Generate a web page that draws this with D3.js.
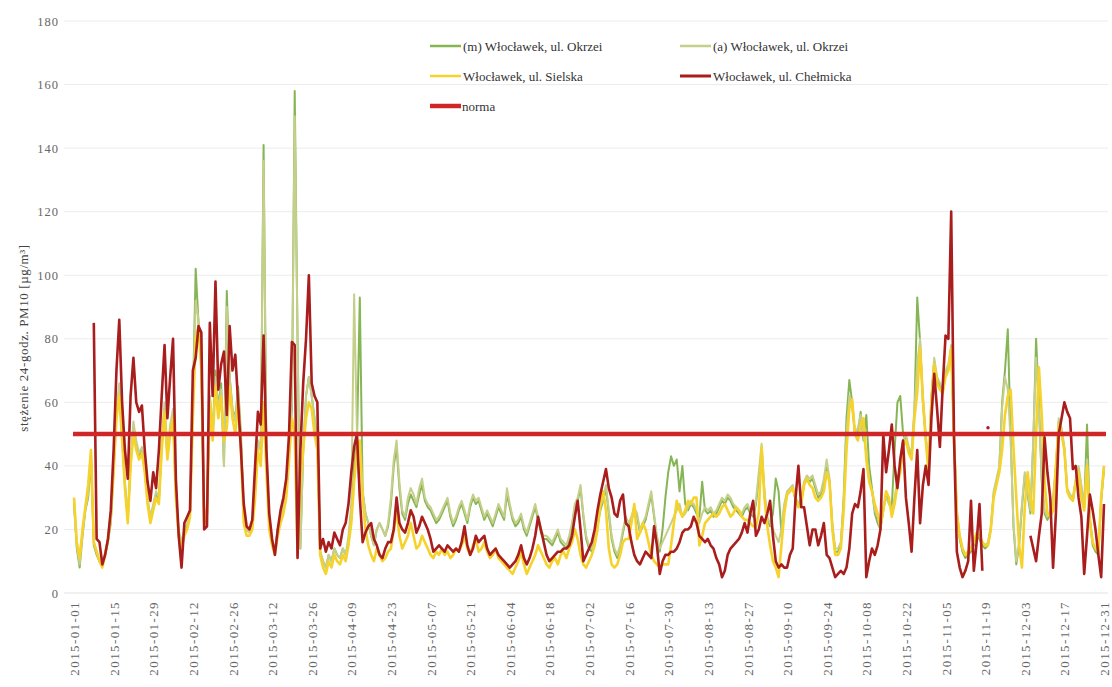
<!DOCTYPE html>
<html><head><meta charset="utf-8">
<script src="https://cdn.jsdelivr.net/npm/d3@7"></script>
<style>
body{margin:0;background:#fff}
text{font-family:"Liberation Serif","DejaVu Serif",serif}
</style>
</head><body>
<svg id="chart" width="1112" height="687"></svg>
<script>
// ---- data (daily 24h PM10 concentrations, 2015-01-01 .. 2015-12-31) ----
const startDate = "2015-01-01";
const yTicks = [0, 20, 40, 60, 80, 100, 120, 140, 160, 180];
const tickEveryDays = 14;
const norma = 50;
const seriesLabels = ["(m) Włocławek, ul. Okrzei", "(a) Włocławek, ul. Okrzei", "Włocławek, ul. Sielska", "Włocławek, ul. Chełmicka", "norma"];

const okrzeiM = [
28,14,8,18,26,30,42,15,12,10,9,12,16,22,
39,56,64,49,34,23,41,52,46,43,45,39,29,23,
27,31,29,46,58,43,51,56,31,19,15,19,21,25,
60,102,85,72,23,26,62,50,70,58,66,40,95,68,
58,55,65,50,24,20,19,22,32,48,45,141,42,22,
16,13,20,24,28,35,45,58,158,80,14,45,62,68,
62,55,48,13,10,8,12,10,14,12,11,14,12,16,
26,40,48,93,32,25,22,18,15,20,22,20,18,21,
28,40,46,33,25,23,28,31,29,27,31,34,29,27,
26,24,22,23,25,27,29,24,21,23,26,28,25,22,
27,30,28,29,26,23,25,23,21,24,27,25,23,31,
27,23,21,22,24,20,18,21,24,27,23,19,17,17,
16,15,17,19,16,15,14,17,21,27,29,33,24,17,
14,13,16,21,26,29,33,25,17,13,11,14,19,23,
21,23,26,24,19,21,23,27,31,24,17,13,20,30,
38,43,40,42,32,40,28,26,28,27,25,24,35,26,
25,26,24,25,27,29,28,30,29,27,26,25,24,26,
27,25,24,28,36,45,31,23,21,25,36,32,19,27,
31,32,33,29,27,29,34,36,35,36,33,30,31,35,
40,35,21,13,13,15,30,55,67,60,50,50,57,48,
56,40,33,25,22,20,26,31,29,27,45,60,62,50,
48,45,43,57,93,79,60,49,39,61,73,67,65,63,
69,71,77,49,25,17,13,11,12,13,15,18,17,15,
14,15,20,31,35,39,60,70,83,50,21,9,15,27,
37,31,25,47,80,60,35,25,23,25,29,39,54,51,
45,32,30,29,35,39,33,27,53,23,15,13,12,29,
39];

const okrzeiA = [
29,15,9,19,26,31,44,16,13,10,9,13,17,23,
40,58,66,50,35,24,42,54,48,44,46,40,30,24,
28,32,30,48,60,45,53,58,32,20,16,20,22,26,
58,92,86,72,24,27,62,50,68,58,64,40,90,68,
58,54,64,48,24,20,19,22,32,48,45,136,45,22,
16,13,20,24,28,35,45,60,150,80,14,45,62,68,
62,55,48,13,10,8,12,10,14,12,11,14,12,18,
28,94,50,30,32,25,22,18,15,20,22,20,18,22,
30,42,48,35,26,24,30,33,31,28,33,36,30,28,
27,25,23,24,26,28,30,25,22,24,27,29,26,23,
28,31,29,30,27,24,26,24,22,25,28,26,24,33,
28,24,22,23,25,21,19,22,25,28,24,20,18,18,
17,16,18,20,17,16,15,18,22,28,30,34,25,18,
15,14,17,22,27,30,34,26,18,14,12,15,20,24,
22,24,27,25,20,22,24,28,32,25,18,14,16,18,
20,22,24,26,28,24,25,27,29,28,26,22,25,27,
26,27,25,26,28,30,29,31,30,28,27,26,25,27,
28,26,25,29,38,47,32,24,22,20,18,16,20,28,
32,33,34,30,28,30,35,37,36,37,34,31,32,36,
42,36,22,14,14,16,28,50,62,58,50,52,56,50,
44,36,32,26,24,20,27,30,28,26,30,36,40,48,
50,46,44,58,72,80,62,50,40,62,74,68,66,64,
70,72,78,50,26,18,14,12,13,14,16,19,18,16,
15,16,21,32,36,40,58,68,64,48,22,10,16,28,
38,32,26,48,74,58,36,26,24,26,30,40,55,52,
46,33,31,30,36,40,34,28,42,24,16,14,13,30,
40];

const sielska = [
30,16,11,20,27,34,45,16,13,10,8,12,17,24,
38,55,62,48,33,22,40,50,45,42,44,38,28,22,
26,30,28,45,57,42,50,55,30,18,14,18,20,24,
55,80,84,70,22,25,60,48,65,55,62,48,52,65,
55,50,60,45,22,18,18,20,30,45,40,60,38,20,
15,12,18,22,25,30,42,55,50,12,35,45,55,60,
58,50,45,12,8,6,10,8,12,10,9,12,10,15,
22,35,45,48,30,20,15,12,10,14,12,10,11,13,
14,20,26,18,14,16,18,22,18,14,15,18,16,14,
12,11,13,12,14,12,13,11,12,14,13,15,18,14,
12,15,17,13,14,16,13,11,12,14,11,10,9,8,
7,6,8,10,13,9,6,8,10,12,15,13,11,9,
8,10,11,9,12,13,11,14,16,20,17,12,9,8,
10,12,15,20,28,32,26,14,9,8,9,12,16,17,
17,22,28,17,19,22,20,16,12,10,9,8,9,9,
9,15,22,29,26,24,26,29,28,30,30,15,18,22,
23,24,25,24,25,27,28,26,24,25,27,26,24,23,
23,22,21,21,25,46,30,21,15,10,8,5,15,25,
31,32,33,30,27,28,34,36,34,33,30,29,30,32,
38,35,20,12,12,14,26,45,58,61,50,48,53,55,
42,35,32,28,25,21,26,32,30,24,28,34,38,46,
48,44,42,55,63,77,61,48,38,60,72,66,64,63,
68,70,77,48,25,18,14,12,13,14,16,19,18,16,
15,15,20,30,34,38,45,56,62,64,46,30,15,8,
27,38,30,25,50,71,56,35,25,24,26,40,53,50,
45,32,30,29,35,38,30,26,40,22,16,14,13,30,
40];

const chelmicka = [
null,null,null,null,null,null,null,85,17,16,9,12,17,26,
45,70,86,60,45,36,62,74,60,57,59,45,35,29,
38,33,45,62,78,55,68,80,36,18,8,22,24,26,
70,74,84,82,20,21,85,62,98,64,72,76,56,84,
70,75,60,45,28,21,20,23,40,57,53,81,45,25,
17,12,20,26,30,36,50,79,78,11,45,66,80,100,
66,62,60,14,17,13,16,14,19,17,15,20,22,28,
38,46,50,30,16,19,21,22,17,15,12,11,14,16,
16,20,30,22,20,19,22,26,24,19,21,24,22,20,
17,13,14,15,14,13,15,14,13,14,13,16,21,15,
12,14,18,16,17,18,14,12,13,14,12,11,10,9,
8,9,10,12,15,11,9,11,14,18,24,20,16,12,
10,11,12,13,13,14,14,15,18,24,29,20,10,12,
14,16,20,26,31,35,39,33,30,25,24,29,31,22,
21,16,12,10,9,11,13,12,11,21,15,6,10,12,
12,13,13,14,16,19,20,20,21,24,22,18,17,16,
17,15,14,11,9,5,7,12,14,15,16,17,19,22,
19,25,29,18,20,24,22,25,29,18,10,8,9,8,
8,12,14,30,40,27,27,21,15,20,20,15,18,22,
12,11,8,5,6,7,6,8,14,25,28,27,32,39,
5,10,14,12,15,20,50,38,45,53,40,33,42,48,
30,22,13,30,45,22,34,40,34,55,69,58,46,65,
81,80,120,49,13,8,5,7,10,29,7,16,28,7,
null,52,null,null,null,null,null,null,null,null,null,null,null,null,
null,null,18,14,10,18,25,49,38,30,8,25,50,55,
60,57,55,39,40,30,24,6,18,31,26,20,12,5,
28];

// ---- chart ----
const svg = d3.select("#chart");
const t0 = d3.timeParse("%Y-%m-%d")(startDate);
const dateOf = i => d3.timeDay.offset(t0, i);
const nDays = sielska.length;

const x = d3.scaleTime().domain([t0, dateOf(nDays - 1)]).range([74, 1104]);
const y = d3.scaleLinear().domain([0, 180]).range([593, 21]);

// grid
svg.append("g").selectAll("line").data(yTicks).join("line")
  .attr("x1", 64).attr("x2", 1108)
  .attr("y1", d => y(d)).attr("y2", d => y(d))
  .attr("stroke", d => d === 0 ? "#e2e2e2" : "#ececec").attr("stroke-width", 1);

// y tick labels
const yAxis = d3.axisLeft(y).tickValues(yTicks).tickSize(0).tickPadding(0);
const gy = svg.append("g").attr("transform", "translate(59,0)").call(yAxis);
gy.select(".domain").remove();
gy.selectAll("text").attr("fill", "#666").attr("font-size", 12.5)
  .style("letter-spacing", "1px")
  .attr("font-family", '"Liberation Serif","DejaVu Serif",serif');

// x tick labels
const tickDates = d3.range(0, nDays, tickEveryDays).map(dateOf);
const fmt = d3.timeFormat("%Y-%m-%d");
const xAxis = d3.axisBottom(x).tickValues(tickDates).tickFormat(fmt).tickSize(0).tickPadding(0);
const gx = svg.append("g").attr("transform", "translate(0,601)").call(xAxis);
gx.select(".domain").remove();
gx.selectAll("text")
  .attr("fill", "#666").attr("font-size", 13)
  .style("letter-spacing", "1.4px")
  .attr("font-family", '"Liberation Serif","DejaVu Serif",serif')
  .attr("text-anchor", "end")
  .attr("transform", "rotate(-90)")
  .attr("x", 0).attr("y", 0).attr("dx", 0).attr("dy", "0.35em");

// y axis title
svg.append("text")
  .attr("transform", "translate(23,338) rotate(-90)")
  .attr("text-anchor", "middle").attr("dy", "0.35em")
  .attr("font-size", 13).attr("fill", "#444")
  .style("letter-spacing", "0.6px")
  .text("stężenie 24-godz. PM10 [µg/m³]");

// lines
const colors = ["#86b555", "#c6cf8a", "#f6d22c", "#aa1d1d", "#cf2727"];
const widths = [2, 2, 2.6, 2.6, 4.5];
const seriesData = [okrzeiM, okrzeiA, sielska, chelmicka];
const line = d3.line()
  .defined(d => d.v != null)
  .x(d => x(d.date)).y(d => y(d.v));

seriesData.forEach((arr, k) => {
  const pts = arr.map((v, i) => ({date: dateOf(i), v}));
  svg.append("path").datum(pts)
    .attr("fill", "none").attr("stroke", colors[k]).attr("stroke-width", widths[k])
    .attr("stroke-linejoin", "round").attr("d", line);
  // isolated points
  const iso = pts.filter((p, i) => p.v != null && (i === 0 || arr[i-1] == null) && (i === arr.length-1 || arr[i+1] == null));
  svg.append("g").selectAll("circle").data(iso).join("circle")
    .attr("cx", d => x(d.date)).attr("cy", d => y(d.v)).attr("r", widths[k] / 2 + 0.4)
    .attr("fill", colors[k]);
});

// norma line
svg.append("line")
  .attr("x1", x(dateOf(0)) - 1).attr("x2", x(dateOf(nDays - 1)) + 2)
  .attr("y1", y(norma)).attr("y2", y(norma))
  .attr("stroke", colors[4]).attr("stroke-width", widths[4]);

// legend
const legendPos = [[430, 46], [680, 46], [430, 76], [680, 76], [430, 106]];
const lg = svg.append("g");
seriesLabels.forEach((lab, k) => {
  const [lx, ly] = legendPos[k];
  lg.append("line").attr("x1", lx).attr("x2", lx + 31).attr("y1", ly).attr("y2", ly)
    .attr("stroke", colors[k]).attr("stroke-width", k === 4 ? 4.5 : (k === 3 ? 3 : 2.5));
  lg.append("text").attr("x", lx + (k === 4 ? 32 : 33)).attr("y", ly).attr("dy", "0.35em")
    .attr("font-size", 13).attr("fill", "#333").text(lab);
});
</script>
</body></html>
